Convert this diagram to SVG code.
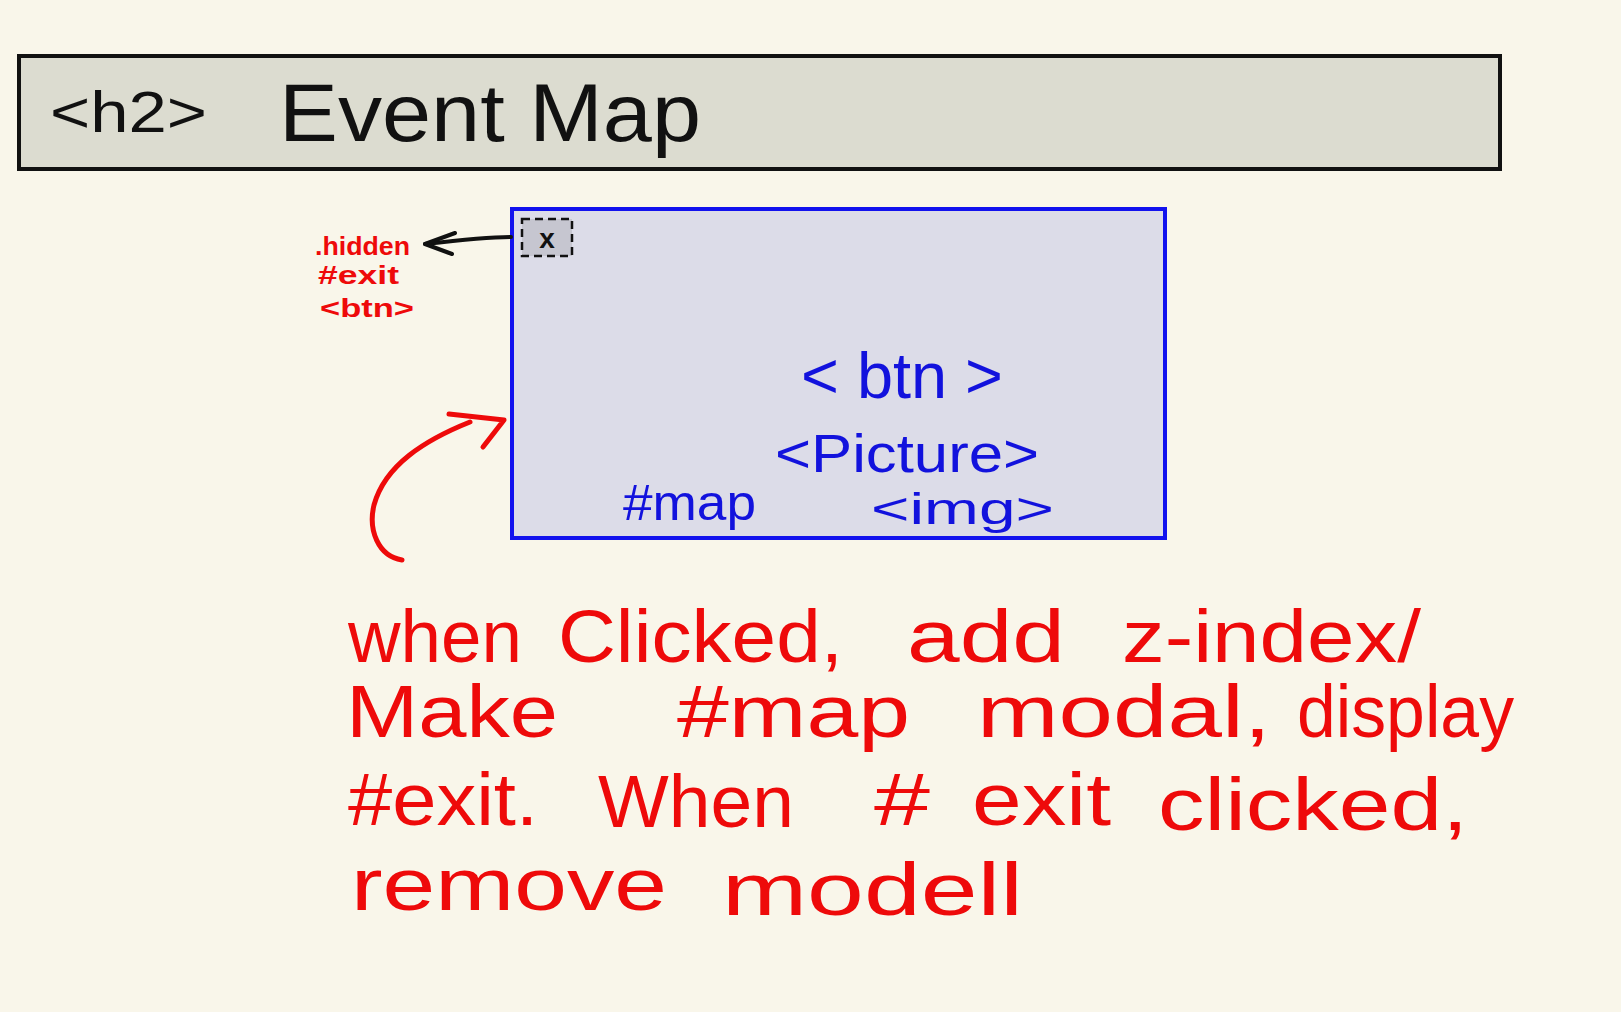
<svg xmlns="http://www.w3.org/2000/svg" width="1621" height="1012" viewBox="0 0 1621 1012">
<style>
.hand{font-family:"Liberation Sans","DejaVu Sans",sans-serif;}
.blk{fill:#111;}
.red{fill:#ee0a0a;}
.blue{fill:#1212dd;}
.redline{stroke:#ee0a0a;stroke-width:5;fill:none;stroke-linecap:round;stroke-linejoin:round;}
.blkline{stroke:#111;stroke-width:4;fill:none;stroke-linecap:round;stroke-linejoin:round;}
</style>
<rect x="0" y="0" width="1621" height="1012" fill="#f9f6ea"/>
<g id="header">
<rect x="19" y="56" width="1481" height="113" fill="#dcdcd0" stroke="#111" stroke-width="4"/>
<text class="hand blk" x="50" y="132" font-size="58" textLength="157" lengthAdjust="spacingAndGlyphs">&lt;h2&gt;</text>
<text class="hand blk" x="279" y="141" font-size="82" textLength="422" lengthAdjust="spacingAndGlyphs">Event Map</text>
</g>
<g id="map">
<rect x="512" y="209" width="653" height="329" fill="#dcdce8" stroke="#1212ee" stroke-width="4"/>
<text class="hand blue" x="801" y="398" font-size="64" textLength="202" lengthAdjust="spacingAndGlyphs">&lt; btn &gt;</text>
<text class="hand blue" x="775" y="472" font-size="54" textLength="264" lengthAdjust="spacingAndGlyphs">&lt;Picture&gt;</text>
<text class="hand blue" x="623" y="520" font-size="50" textLength="133" lengthAdjust="spacingAndGlyphs">#map</text>
<text class="hand blue" x="871" y="524" font-size="44" textLength="183" lengthAdjust="spacingAndGlyphs">&lt;img&gt;</text>
</g>
<g id="exit">
<rect x="522" y="219" width="50" height="37" fill="#c6c6d0" stroke="#111" stroke-width="2.5" stroke-dasharray="8,5"/>
<text class="hand blk" x="547" y="248" font-size="28" font-weight="bold" text-anchor="middle">x</text>
</g>
<g id="exit-label">
<text class="hand red" x="315" y="255" font-size="26" font-weight="bold" textLength="95" lengthAdjust="spacingAndGlyphs">.hidden</text>
<text class="hand red" x="318" y="284" font-size="26" font-weight="bold" textLength="81" lengthAdjust="spacingAndGlyphs">#exit</text>
<text class="hand red" x="320" y="317" font-size="26" font-weight="bold" textLength="94" lengthAdjust="spacingAndGlyphs">&lt;btn&gt;</text>
</g>
<g id="note">
<g class="hand red" font-size="74">
<text x="348" y="662" textLength="174" lengthAdjust="spacingAndGlyphs">when</text>
<text x="558" y="662" textLength="285" lengthAdjust="spacingAndGlyphs">Clicked,</text>
<text x="907" y="662" textLength="158" lengthAdjust="spacingAndGlyphs">add</text>
<text x="1122" y="662" textLength="299" lengthAdjust="spacingAndGlyphs">z-index/</text>
<text x="346" y="737" textLength="212" lengthAdjust="spacingAndGlyphs">Make</text>
<text x="677" y="737" textLength="233" lengthAdjust="spacingAndGlyphs">#map</text>
<text x="977" y="737" textLength="294" lengthAdjust="spacingAndGlyphs">modal,</text>
<text x="1297" y="737" textLength="217" lengthAdjust="spacingAndGlyphs">display</text>
<text x="348" y="825" textLength="190" lengthAdjust="spacingAndGlyphs">#exit.</text>
<text x="598" y="827" textLength="196" lengthAdjust="spacingAndGlyphs">When</text>
<text x="874" y="825" textLength="56" lengthAdjust="spacingAndGlyphs">#</text>
<text x="972" y="825" textLength="139" lengthAdjust="spacingAndGlyphs">exit</text>
<text x="1158" y="830" textLength="310" lengthAdjust="spacingAndGlyphs">clicked,</text>
<text x="351" y="910" textLength="316" lengthAdjust="spacingAndGlyphs">remove</text>
<text x="722" y="915" textLength="301" lengthAdjust="spacingAndGlyphs">modell</text>
</g>
</g>
<g id="connectors">
<path class="blkline" d="M511 237 C 490 237, 460 240, 425 244"/>
<path class="blkline" d="M455 233 L 425 244 L 452 254"/>
<path class="redline" d="M402 560 C 378 556, 368 530, 374 505 C 385 465, 425 440, 470 422"/>
<path class="redline" d="M449 414 L 504 420 L 483 447"/>
</g>
</svg>
